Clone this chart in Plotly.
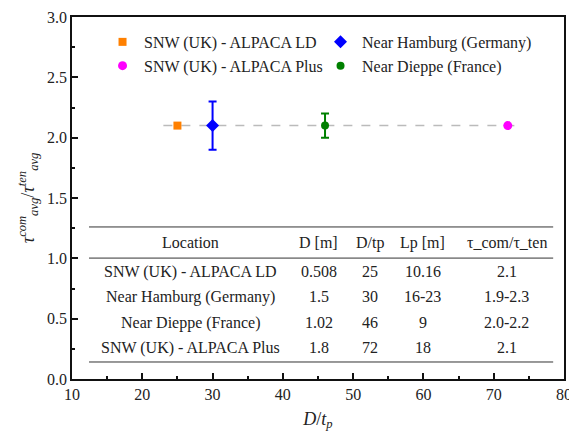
import plotly.graph_objects as go

# Data
names = ["SNW (UK) - ALPACA LD", "Near Hamburg (Germany)", "SNW (UK) - ALPACA Plus", "Near Dieppe (France)"]
x_vals = [25, 30, 72, 46]
y_vals = [2.1, 2.1, 2.1, 2.1]
err_plus = [0, 0.2, 0, 0.1]
err_minus = [0, 0.2, 0, 0.1]
colors = ["#FF8000", "#0000FF", "#FF00FF", "#008000"]
symbols = ["square", "diamond", "circle", "circle"]
sizes = [8, 10, 9, 8]

ref_x = [23, 74]
ref_y = [2.1, 2.1]

table_header = ["Location", "D [m]", "D/tp", "Lp [m]", "τ_com/τ_ten"]
table_rows = [
    ["SNW (UK) - ALPACA LD", "0.508", "25", "10.16", "2.1"],
    ["Near Hamburg (Germany)", "1.5", "30", "16-23", "1.9-2.3"],
    ["Near Dieppe (France)", "1.02", "46", "9", "2.0-2.2"],
    ["SNW (UK) - ALPACA Plus", "1.8", "72", "18", "2.1"],
]

FONT = "Liberation Serif"

fig = go.Figure()
fig.add_trace(go.Scatter(x=ref_x, y=ref_y, mode="lines",
                         line=dict(color="#BBBBBB", width=1.5, dash="dash"),
                         showlegend=False, hoverinfo="skip"))
for i in range(len(names)):
    has_err = err_plus[i] > 0
    fig.add_trace(go.Scatter(
        x=[x_vals[i]], y=[y_vals[i]], mode="markers", name=names[i],
        marker=dict(color=colors[i], symbol=symbols[i], size=sizes[i], line=dict(width=0)),
        error_y=dict(type="data", array=[err_plus[i]], arrayminus=[err_minus[i]],
                     visible=has_err, color=colors[i], thickness=2, width=4),
    ))

# table
col_x = [0.240, 0.502, 0.606, 0.713, 0.884]
row_y = [0.376, 0.296, 0.227, 0.155, 0.086]
for j, t in enumerate(table_header):
    fig.add_annotation(x=col_x[j], y=row_y[0], xref="paper", yref="paper", text=t,
                       xanchor="center", yanchor="middle",
                       showarrow=False, font=dict(family=FONT, size=16, color="#222"))
for r, row in enumerate(table_rows):
    for j, t in enumerate(row):
        fig.add_annotation(x=col_x[j], y=row_y[r + 1], xref="paper", yref="paper", text=t,
                           xanchor="center", yanchor="middle",
                           showarrow=False, font=dict(family=FONT, size=16, color="#222"))
for ly in [0.420, 0.334, 0.047]:
    fig.add_shape(type="line", xref="paper", yref="paper", x0=0.0346, x1=0.978, y0=ly, y1=ly,
                  line=dict(color="#333", width=1))

fig.update_layout(
    width=569, height=429,
    margin=dict(l=64, r=13, t=9, b=58),
    paper_bgcolor="white", plot_bgcolor="white",
    font=dict(family=FONT, size=16, color="#222"),
    legend=dict(orientation="h", x=0.059, y=0.978, xanchor="left", yanchor="top",
                entrywidth=170, entrywidthmode="pixels", bgcolor="rgba(0,0,0,0)",
                font=dict(family=FONT, size=16, color="#222"), tracegroupgap=0,
                itemwidth=33),
    xaxis=dict(range=[10, 80], tickvals=[10, 20, 30, 40, 50, 60, 70, 80],
               ticks="inside", ticklen=6, tickwidth=1.5, tickcolor="#111",
               minor=dict(dtick=5, ticks="inside", ticklen=3, tickwidth=1.5, tickcolor="#111"),
               showline=True, linecolor="#111", linewidth=1.5, mirror=True,
               showgrid=False, zeroline=False, automargin=False,
               title=dict(text="<i>D</i>/<i>t<sub>p</sub></i>", font=dict(family=FONT, size=18), standoff=10)),
    yaxis=dict(range=[0, 3], tickvals=[0, 0.5, 1, 1.5, 2, 2.5, 3], tickformat=".1f",
               ticks="inside", ticklen=6, tickwidth=1.5, tickcolor="#111",
               minor=dict(dtick=0.25, ticks="inside", ticklen=3, tickwidth=1.5, tickcolor="#111"),
               showline=True, linecolor="#111", linewidth=1.5, mirror=True,
               showgrid=False, zeroline=False, automargin=False,
               title=dict(text="<i>τ<sup>com</sup><sub>avg</sub></i>/<i>τ<sup>ten</sup><sub>avg</sub></i>",
                          font=dict(family=FONT, size=18), standoff=8)),
)
fig.write_html("out.html")
